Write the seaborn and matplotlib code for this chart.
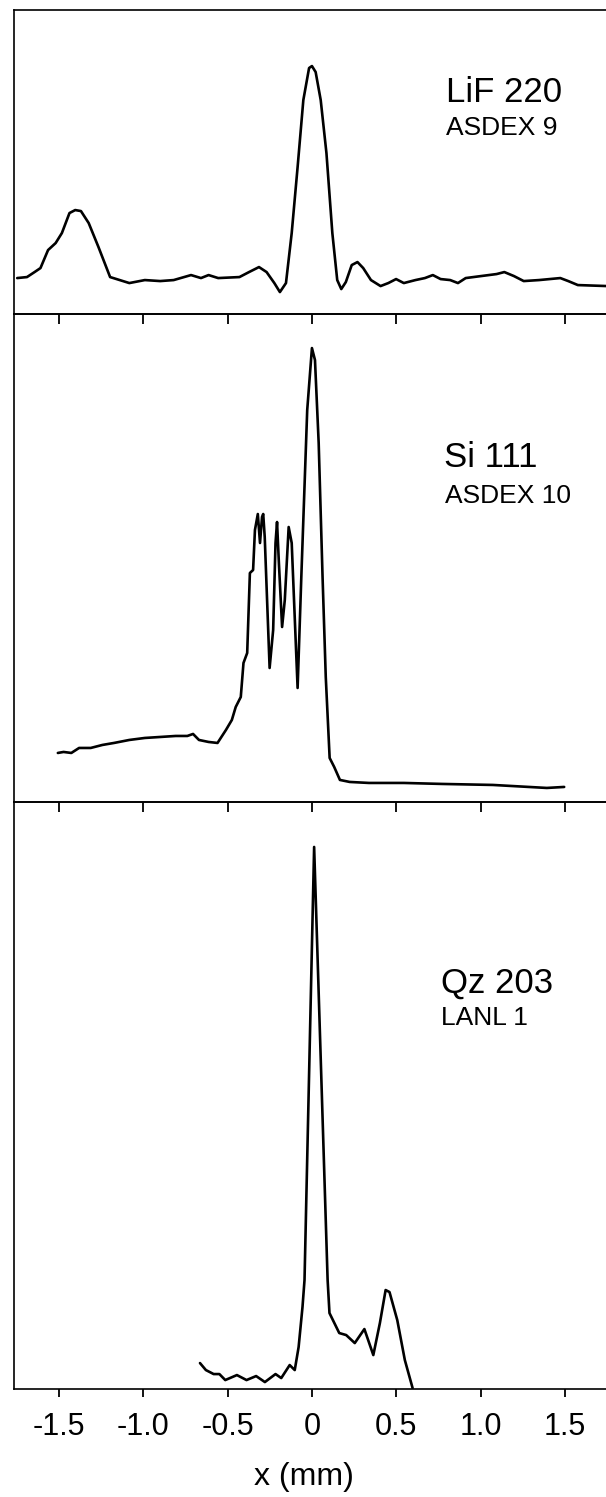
import numpy as np
import pandas as pd
import matplotlib
matplotlib.use("Agg")
import matplotlib.pyplot as plt
import seaborn as sns

# --- data (x in mm, intensity in arbitrary units) ---
lif_x = [-1.748, -1.69, -1.645, -1.61, -1.565, -1.52, -1.483, -1.438, -1.404, -1.37,
         -1.324, -1.266, -1.197, -1.083, -0.991, -0.90, -0.82, -0.717, -0.658, -0.613,
         -0.556, -0.43, -0.373, -0.314, -0.269, -0.223, -0.19, -0.154, -0.12, -0.085,
         -0.051, -0.017, 0.0, 0.022, 0.052, 0.086, 0.121, 0.15, 0.174, 0.201,
         0.236, 0.27, 0.304, 0.35, 0.407, 0.453, 0.499, 0.545, 0.614, 0.67,
         0.717, 0.763, 0.82, 0.866, 0.912, 1.003, 1.095, 1.141, 1.198, 1.256,
         1.347, 1.473, 1.52, 1.577, 1.75]
lif_y = [36, 37, 42, 46, 64, 71, 81, 101, 104, 103,
         91, 67, 37, 31, 34, 33, 34, 39, 36, 39,
         36, 37, 42, 47, 42, 31, 22, 31, 81, 147,
         214, 246, 248, 242, 214, 161, 81, 34, 25, 32,
         49, 52, 46, 34, 28, 31, 35, 31, 34, 36,
         39, 35, 34, 31, 36, 38, 40, 42, 38, 33,
         34, 36, 33, 29, 28]

si_x = [-1.507, -1.473, -1.427, -1.381, -1.312, -1.243, -1.174, -1.083, -0.991, -0.899,
        -0.808, -0.739, -0.705, -0.670, -0.613, -0.560, -0.510, -0.475, -0.452, -0.422,
        -0.406, -0.384, -0.368, -0.349, -0.338, -0.321, -0.308, -0.296, -0.289, -0.280,
        -0.251, -0.230, -0.216, -0.207, -0.196, -0.177, -0.161, -0.138, -0.120, -0.085,
        -0.063, -0.028, 0.0, 0.018, 0.040, 0.063, 0.082, 0.105, 0.132, 0.166,
        0.224, 0.338, 0.545, 0.774, 1.073, 1.393, 1.496]
si_y = [49, 50, 49, 54, 54, 57, 59, 62, 64, 65,
        66, 66, 68, 62, 60, 59, 72, 82, 95, 105,
        139, 149, 229, 232, 272, 288, 259, 285, 288, 265,
        134, 172, 259, 280, 239, 175, 202, 275, 259, 114,
        225, 392, 454, 442, 359, 225, 125, 44, 35, 22,
        20, 19, 19, 18, 17, 14, 15]

qz_x = [-0.664, -0.629, -0.583, -0.549, -0.514, -0.445, -0.388, -0.331, -0.279, -0.216,
        -0.182, -0.132, -0.102, -0.079, -0.056, -0.044, 0.013, 0.093, 0.104, 0.162,
        0.203, 0.254, 0.311, 0.364, 0.403, 0.437, 0.460, 0.506, 0.551, 0.597]
qz_y = [26, 19, 15, 15, 9, 14, 9, 13, 7, 15,
        11, 24, 19, 42, 82, 109, 542, 109, 76, 56,
        54, 46, 60, 34, 66, 99, 97, 69, 29, 1]

tick_vals = [-1.5, -1.0, -0.5, 0.0, 0.5, 1.0, 1.5]
tick_text = ["-1.5", "-1.0", "-0.5", "0", "0.5", "1.0", "1.5"]

panels = [
    ("LiF 220", "ASDEX 9", lif_x, lif_y, 304),
    ("Si 111", "ASDEX 10", si_x, si_y, 488),
    ("Qz 203", "LANL 1", qz_x, qz_y, 587),
]
# (bottom, height) in figure fraction, and label anchor positions (axes fraction)
boxes = [(0.7902, 0.2031), (0.4643, 0.3259), (0.0721, 0.3922)]
label_pos = [((0.730, 0.697), (0.730, 0.589)),
             ((0.726, 0.686), (0.728, 0.613)),
             ((0.721, 0.675), (0.721, 0.620))]

sns.set_style("ticks", {"axes.edgecolor": "black", "xtick.color": "black",
                        "text.color": "black"})
plt.rcParams['font.family'] = ['Liberation Sans', 'DejaVu Sans']
tick_font = ['Liberation Sans Narrow', 'Liberation Sans', 'DejaVu Sans']

fig = plt.figure(figsize=(6.06, 14.97), dpi=100)

for i, (name, source, xs, ys, ymax) in enumerate(panels):
    bottom, height = boxes[i]
    ax = fig.add_axes([0.0231, bottom, 0.9769, height])
    ax.patch.set_alpha(0)
    df = pd.DataFrame({"x": xs, "y": ys})
    sns.lineplot(data=df, x="x", y="y", ax=ax, color="black", lw=1.9,
                 sort=False, estimator=None)
    ax.set_xlim(-1.767, 1.744)
    ax.set_ylim(0, ymax)
    ax.set_yticks([])
    ax.set_xlabel("")
    ax.set_ylabel("")
    ax.spines["right"].set_visible(False)
    for s in ["left", "top", "bottom"]:
        ax.spines[s].set_linewidth(1.2)
        ax.spines[s].set_color("black")
    ax.set_xticks(tick_vals)
    last = i == len(panels) - 1
    ax.tick_params(axis="x", direction="out", width=1.3, color="black",
                   labelcolor="black",
                   length=5.5 if last else 7.5, pad=11 if last else 0,
                   labelbottom=last)
    if last:
        ax.set_xticklabels(tick_text, fontsize=22, family=tick_font)
    (nx, ny), (sx, sy) = label_pos[i]
    ax.text(nx, ny, name, transform=ax.transAxes, fontsize=25, va="baseline",
            color="black")
    ax.text(sx, sy, source, transform=ax.transAxes, fontsize=19, va="baseline",
            color="black")

fig.text(304 / 606, 1 - 1477 / 1497, "x (mm)", fontsize=23, ha="center",
         va="center", color="black")

fig.savefig("out.png", dpi=100)
